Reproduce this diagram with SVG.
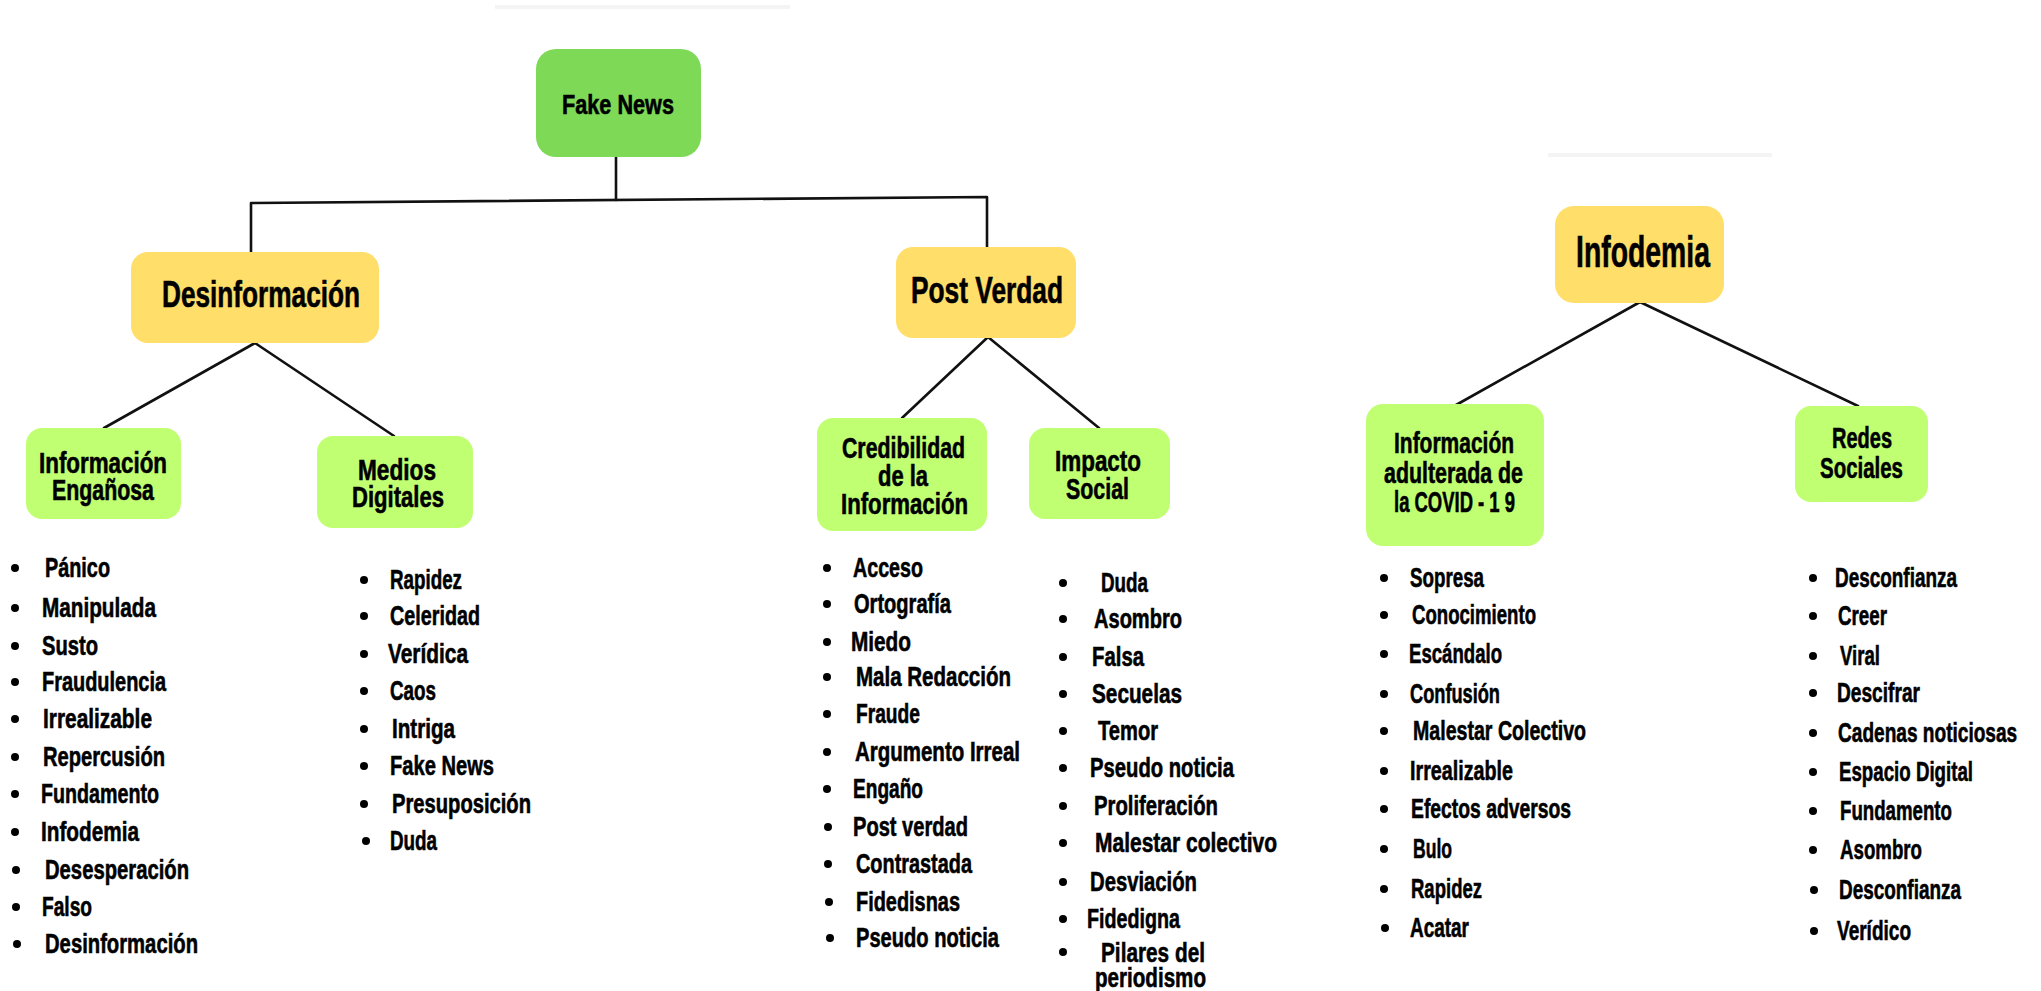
<svg xmlns="http://www.w3.org/2000/svg" width="2041" height="991" viewBox="0 0 2041 991">
<style>
text{font-family:"Liberation Sans",Arial,sans-serif;font-weight:bold;fill:#000;stroke:#000;stroke-width:0.6}
.n{font-size:29px}
.li{font-size:28px}
.c{stroke:#111;stroke-width:2.6;fill:none;stroke-linecap:round;stroke-linejoin:round}
.g1{fill:#7ED957}
.y{fill:#FFDE6A}
.g2{fill:#C1FF72}
.b{fill:#000}
</style>
<rect width="2041" height="991" fill="#fff"/>
<rect x="495" y="5" width="295" height="4" fill="#f4f4f4"/>
<rect x="1548" y="153" width="224" height="4" fill="#f4f4f4"/>
<g id="connectors">
<path class="c" d="M616,156 L616,200"/>
<path class="c" d="M251,252 L251,203 L987,197 L987,247"/>
<path class="c" d="M255,343 L104,428"/>
<path class="c" d="M255,343 L394,436"/>
<path class="c" d="M988,337 L902,418"/>
<path class="c" d="M988,337 L1099,428"/>
<path class="c" d="M1640,302 L1456,405"/>
<path class="c" d="M1640,302 L1858,406"/>
</g>
<g id="fake-news">
<rect class="g1" x="536" y="49" width="165" height="108" rx="20"/>
<text x="562" y="114" font-size="28" textLength="112" lengthAdjust="spacingAndGlyphs">Fake News</text>
</g>
<g id="desinformacion">
<rect class="y" x="131" y="252" width="248" height="91" rx="17"/>
<text x="162" y="307" font-size="37" textLength="198" lengthAdjust="spacingAndGlyphs">Desinformación</text>
</g>
<g id="post-verdad">
<rect class="y" x="896" y="247" width="180" height="91" rx="17"/>
<text x="911" y="303" font-size="36" textLength="152" lengthAdjust="spacingAndGlyphs">Post Verdad</text>
</g>
<g id="infodemia">
<rect class="y" x="1555" y="206" width="169" height="97" rx="19"/>
<text x="1576" y="267" font-size="44" textLength="134" lengthAdjust="spacingAndGlyphs">Infodemia</text>
</g>
<g id="informacion-enganosa">
<rect class="g2" x="26" y="428" width="155" height="91" rx="16"/>
<text class="n" x="39" y="473" textLength="128" lengthAdjust="spacingAndGlyphs">Información</text>
<text class="n" x="52" y="500" textLength="102" lengthAdjust="spacingAndGlyphs">Engañosa</text>
</g>
<g id="medios-digitales">
<rect class="g2" x="317" y="436" width="156" height="92" rx="16"/>
<text class="n" x="358" y="480" textLength="78" lengthAdjust="spacingAndGlyphs">Medios</text>
<text class="n" x="352" y="507" textLength="92" lengthAdjust="spacingAndGlyphs">Digitales</text>
</g>
<g id="credibilidad">
<rect class="g2" x="817" y="418" width="170" height="113" rx="16"/>
<text class="n" x="842" y="458" textLength="123" lengthAdjust="spacingAndGlyphs">Credibilidad</text>
<text class="n" x="878" y="486" textLength="50" lengthAdjust="spacingAndGlyphs">de la</text>
<text class="n" x="841" y="514" textLength="127" lengthAdjust="spacingAndGlyphs">Información</text>
</g>
<g id="impacto-social">
<rect class="g2" x="1029" y="428" width="141" height="91" rx="16"/>
<text class="n" x="1055" y="471" textLength="86" lengthAdjust="spacingAndGlyphs">Impacto</text>
<text class="n" x="1066" y="499" textLength="63" lengthAdjust="spacingAndGlyphs">Social</text>
</g>
<g id="informacion-adulterada">
<rect class="g2" x="1366" y="404" width="178" height="142" rx="17"/>
<text class="n" x="1394" y="453" textLength="120" lengthAdjust="spacingAndGlyphs">Información</text>
<text class="n" x="1384" y="483" textLength="139" lengthAdjust="spacingAndGlyphs">adulterada de</text>
<text class="n" x="1394" y="512" textLength="121" lengthAdjust="spacingAndGlyphs">la COVID - 1 9</text>
</g>
<g id="redes-sociales">
<rect class="g2" x="1795" y="406" width="133" height="96" rx="16"/>
<text class="n" x="1832" y="448" textLength="60" lengthAdjust="spacingAndGlyphs">Redes</text>
<text class="n" x="1820" y="478" textLength="83" lengthAdjust="spacingAndGlyphs">Sociales</text>
</g>
<g id="lista-enganosa">
<circle class="b" cx="15" cy="568" r="4"/><text class="li" x="45" y="577" textLength="65" lengthAdjust="spacingAndGlyphs">Pánico</text>
<circle class="b" cx="15" cy="608" r="4"/><text class="li" x="42" y="617" textLength="114" lengthAdjust="spacingAndGlyphs">Manipulada</text>
<circle class="b" cx="15" cy="646" r="4"/><text class="li" x="42" y="655" textLength="56" lengthAdjust="spacingAndGlyphs">Susto</text>
<circle class="b" cx="15" cy="682" r="4"/><text class="li" x="42" y="691" textLength="124" lengthAdjust="spacingAndGlyphs">Fraudulencia</text>
<circle class="b" cx="15" cy="719" r="4"/><text class="li" x="43" y="728" textLength="109" lengthAdjust="spacingAndGlyphs">Irrealizable</text>
<circle class="b" cx="15" cy="757" r="4"/><text class="li" x="43" y="766" textLength="122" lengthAdjust="spacingAndGlyphs">Repercusión</text>
<circle class="b" cx="15" cy="794" r="4"/><text class="li" x="41" y="803" textLength="118" lengthAdjust="spacingAndGlyphs">Fundamento</text>
<circle class="b" cx="15" cy="832" r="4"/><text class="li" x="41" y="841" textLength="98" lengthAdjust="spacingAndGlyphs">Infodemia</text>
<circle class="b" cx="16" cy="870" r="4"/><text class="li" x="45" y="879" textLength="144" lengthAdjust="spacingAndGlyphs">Desesperación</text>
<circle class="b" cx="16" cy="907" r="4"/><text class="li" x="42" y="916" textLength="50" lengthAdjust="spacingAndGlyphs">Falso</text>
<circle class="b" cx="17" cy="944" r="4"/><text class="li" x="45" y="953" textLength="153" lengthAdjust="spacingAndGlyphs">Desinformación</text>
</g>
<g id="lista-medios">
<circle class="b" cx="364" cy="580" r="4"/><text class="li" x="390" y="589" textLength="72" lengthAdjust="spacingAndGlyphs">Rapidez</text>
<circle class="b" cx="364" cy="616" r="4"/><text class="li" x="390" y="625" textLength="90" lengthAdjust="spacingAndGlyphs">Celeridad</text>
<circle class="b" cx="364" cy="654" r="4"/><text class="li" x="388" y="663" textLength="80" lengthAdjust="spacingAndGlyphs">Verídica</text>
<circle class="b" cx="364" cy="691" r="4"/><text class="li" x="390" y="700" textLength="46" lengthAdjust="spacingAndGlyphs">Caos</text>
<circle class="b" cx="364" cy="729" r="4"/><text class="li" x="392" y="738" textLength="63" lengthAdjust="spacingAndGlyphs">Intriga</text>
<circle class="b" cx="364" cy="766" r="4"/><text class="li" x="390" y="775" textLength="104" lengthAdjust="spacingAndGlyphs">Fake News</text>
<circle class="b" cx="364" cy="804" r="4"/><text class="li" x="392" y="813" textLength="139" lengthAdjust="spacingAndGlyphs">Presuposición</text>
<circle class="b" cx="366" cy="841" r="4"/><text class="li" x="390" y="850" textLength="47" lengthAdjust="spacingAndGlyphs">Duda</text>
</g>
<g id="lista-credibilidad">
<circle class="b" cx="827" cy="568" r="4"/><text class="li" x="853" y="577" textLength="70" lengthAdjust="spacingAndGlyphs">Acceso</text>
<circle class="b" cx="827" cy="604" r="4"/><text class="li" x="854" y="613" textLength="97" lengthAdjust="spacingAndGlyphs">Ortografía</text>
<circle class="b" cx="827" cy="642" r="4"/><text class="li" x="851" y="651" textLength="60" lengthAdjust="spacingAndGlyphs">Miedo</text>
<circle class="b" cx="827" cy="677" r="4"/><text class="li" x="856" y="686" textLength="155" lengthAdjust="spacingAndGlyphs">Mala Redacción</text>
<circle class="b" cx="827" cy="714" r="4"/><text class="li" x="856" y="723" textLength="64" lengthAdjust="spacingAndGlyphs">Fraude</text>
<circle class="b" cx="827" cy="752" r="4"/><text class="li" x="855" y="761" textLength="165" lengthAdjust="spacingAndGlyphs">Argumento Irreal</text>
<circle class="b" cx="827" cy="789" r="4"/><text class="li" x="853" y="798" textLength="70" lengthAdjust="spacingAndGlyphs">Engaño</text>
<circle class="b" cx="828" cy="827" r="4"/><text class="li" x="853" y="836" textLength="115" lengthAdjust="spacingAndGlyphs">Post verdad</text>
<circle class="b" cx="828" cy="864" r="4"/><text class="li" x="856" y="873" textLength="116" lengthAdjust="spacingAndGlyphs">Contrastada</text>
<circle class="b" cx="829" cy="902" r="4"/><text class="li" x="856" y="911" textLength="104" lengthAdjust="spacingAndGlyphs">Fidedisnas</text>
<circle class="b" cx="830" cy="938" r="4"/><text class="li" x="856" y="947" textLength="143" lengthAdjust="spacingAndGlyphs">Pseudo noticia</text>
</g>
<g id="lista-impacto">
<circle class="b" cx="1063" cy="583" r="4"/><text class="li" x="1101" y="592" textLength="47" lengthAdjust="spacingAndGlyphs">Duda</text>
<circle class="b" cx="1063" cy="619" r="4"/><text class="li" x="1094" y="628" textLength="88" lengthAdjust="spacingAndGlyphs">Asombro</text>
<circle class="b" cx="1063" cy="657" r="4"/><text class="li" x="1092" y="666" textLength="52" lengthAdjust="spacingAndGlyphs">Falsa</text>
<circle class="b" cx="1063" cy="694" r="4"/><text class="li" x="1092" y="703" textLength="90" lengthAdjust="spacingAndGlyphs">Secuelas</text>
<circle class="b" cx="1063" cy="731" r="4"/><text class="li" x="1098" y="740" textLength="60" lengthAdjust="spacingAndGlyphs">Temor</text>
<circle class="b" cx="1063" cy="768" r="4"/><text class="li" x="1090" y="777" textLength="144" lengthAdjust="spacingAndGlyphs">Pseudo noticia</text>
<circle class="b" cx="1063" cy="806" r="4"/><text class="li" x="1094" y="815" textLength="124" lengthAdjust="spacingAndGlyphs">Proliferación</text>
<circle class="b" cx="1063" cy="843" r="4"/><text class="li" x="1095" y="852" textLength="182" lengthAdjust="spacingAndGlyphs">Malestar colectivo</text>
<circle class="b" cx="1063" cy="882" r="4"/><text class="li" x="1090" y="891" textLength="107" lengthAdjust="spacingAndGlyphs">Desviación</text>
<circle class="b" cx="1063" cy="919" r="4"/><text class="li" x="1087" y="928" textLength="93" lengthAdjust="spacingAndGlyphs">Fidedigna</text>
<circle class="b" cx="1063" cy="952" r="4"/><text class="li" x="1101" y="962" textLength="104" lengthAdjust="spacingAndGlyphs">Pilares del</text>
<text class="li" x="1095" y="987" textLength="111" lengthAdjust="spacingAndGlyphs">periodismo</text>
</g>
<g id="lista-adulterada">
<circle class="b" cx="1384" cy="578" r="4"/><text class="li" x="1410" y="587" textLength="74" lengthAdjust="spacingAndGlyphs">Sopresa</text>
<circle class="b" cx="1384" cy="615" r="4"/><text class="li" x="1412" y="624" textLength="124" lengthAdjust="spacingAndGlyphs">Conocimiento</text>
<circle class="b" cx="1384" cy="654" r="4"/><text class="li" x="1409" y="663" textLength="93" lengthAdjust="spacingAndGlyphs">Escándalo</text>
<circle class="b" cx="1384" cy="694" r="4"/><text class="li" x="1410" y="703" textLength="90" lengthAdjust="spacingAndGlyphs">Confusión</text>
<circle class="b" cx="1384" cy="731" r="4"/><text class="li" x="1413" y="740" textLength="173" lengthAdjust="spacingAndGlyphs">Malestar Colectivo</text>
<circle class="b" cx="1384" cy="771" r="4"/><text class="li" x="1410" y="780" textLength="103" lengthAdjust="spacingAndGlyphs">Irrealizable</text>
<circle class="b" cx="1384" cy="809" r="4"/><text class="li" x="1411" y="818" textLength="160" lengthAdjust="spacingAndGlyphs">Efectos adversos</text>
<circle class="b" cx="1384" cy="849" r="4"/><text class="li" x="1413" y="858" textLength="39" lengthAdjust="spacingAndGlyphs">Bulo</text>
<circle class="b" cx="1384" cy="889" r="4"/><text class="li" x="1411" y="898" textLength="71" lengthAdjust="spacingAndGlyphs">Rapidez</text>
<circle class="b" cx="1385" cy="928" r="4"/><text class="li" x="1410" y="937" textLength="59" lengthAdjust="spacingAndGlyphs">Acatar</text>
</g>
<g id="lista-redes">
<circle class="b" cx="1813" cy="578" r="4"/><text class="li" x="1835" y="587" textLength="122" lengthAdjust="spacingAndGlyphs">Desconfianza</text>
<circle class="b" cx="1813" cy="616" r="4"/><text class="li" x="1838" y="625" textLength="49" lengthAdjust="spacingAndGlyphs">Creer</text>
<circle class="b" cx="1813" cy="656" r="4"/><text class="li" x="1840" y="665" textLength="40" lengthAdjust="spacingAndGlyphs">Viral</text>
<circle class="b" cx="1813" cy="693" r="4"/><text class="li" x="1837" y="702" textLength="83" lengthAdjust="spacingAndGlyphs">Descifrar</text>
<circle class="b" cx="1813" cy="733" r="4"/><text class="li" transform="matrix(0.7,0,0,1,1838,742)" x="0" y="0" textLength="256" lengthAdjust="spacingAndGlyphs">Cadenas noticiosas</text>
<circle class="b" cx="1813" cy="772" r="4"/><text class="li" x="1839" y="781" textLength="134" lengthAdjust="spacingAndGlyphs">Espacio Digital</text>
<circle class="b" cx="1813" cy="811" r="4"/><text class="li" x="1840" y="820" textLength="112" lengthAdjust="spacingAndGlyphs">Fundamento</text>
<circle class="b" cx="1813" cy="850" r="4"/><text class="li" x="1840" y="859" textLength="82" lengthAdjust="spacingAndGlyphs">Asombro</text>
<circle class="b" cx="1814" cy="890" r="4"/><text class="li" x="1839" y="899" textLength="122" lengthAdjust="spacingAndGlyphs">Desconfianza</text>
<circle class="b" cx="1814" cy="931" r="4"/><text class="li" x="1837" y="940" textLength="74" lengthAdjust="spacingAndGlyphs">Verídico</text>
</g>
</svg>
